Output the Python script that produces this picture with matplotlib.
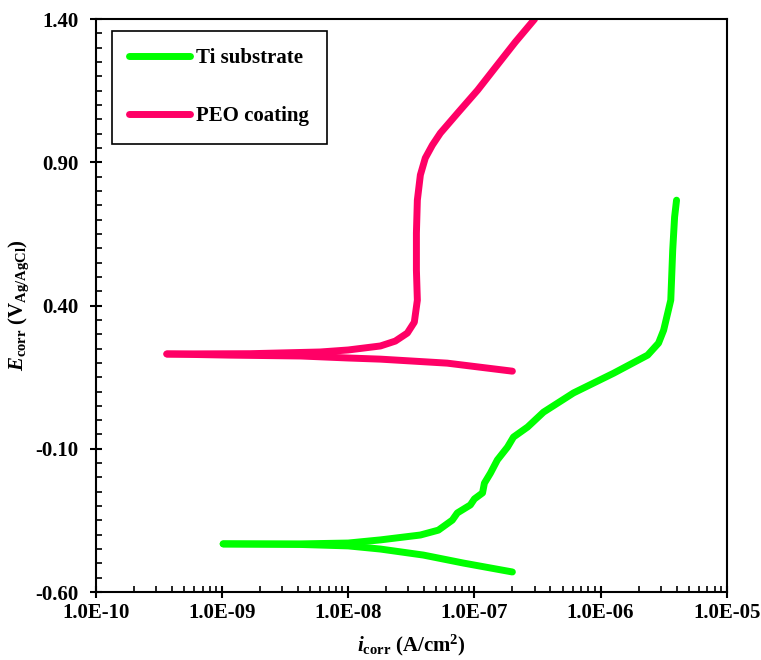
#
# Potentiodynamic polarization curves: Ti substrate vs PEO coating
#
import matplotlib
matplotlib.use('Agg')
import matplotlib.pyplot as plt
from matplotlib.ticker import FuncFormatter, FixedLocator, MultipleLocator, LogLocator, NullFormatter

plt.rcParams['font.family'] = ['Liberation Serif', 'DejaVu Serif']
plt.rcParams['font.weight'] = 'bold'
plt.rcParams['mathtext.fontset'] = 'custom'
plt.rcParams['mathtext.rm'] = 'Liberation Serif:bold'
plt.rcParams['mathtext.bf'] = 'Liberation Serif:bold'
plt.rcParams['mathtext.it'] = 'Liberation Serif:bold:italic'

# Ti substrate: cathodic branch (from high current down to Ecorr)
ti_cat_i = [2.0e-7, 8.2e-8, 3.94e-8, 1.8e-8, 1.0e-8, 4.2e-9, 1.02e-9]
ti_cat_E = [-0.530, -0.499, -0.471, -0.450, -0.439, -0.434, -0.432]
# Ti substrate: anodic branch
ti_an_i = [1.02e-9, 4.2e-9, 1.0e-8, 1.8e-8, 3.73e-8, 5.18e-8, 6.68e-8, 7.32e-8,
           9.29e-8, 1.0e-7, 1.16e-7, 1.2e-7, 1.34e-7, 1.52e-7, 1.83e-7, 2.04e-7,
           2.64e-7, 3.53e-7, 6.1e-7, 1.27e-6, 2.36e-6, 2.88e-6, 3.16e-6, 3.6e-6,
           3.73e-6, 3.86e-6, 4.0e-6]
ti_an_E = [-0.432, -0.432, -0.429, -0.418, -0.401, -0.384, -0.349, -0.324,
           -0.296, -0.275, -0.254, -0.220, -0.185, -0.139, -0.094, -0.059,
           -0.024, 0.028, 0.095, 0.164, 0.227, 0.269, 0.314, 0.419,
           0.594, 0.709, 0.768]

# PEO coating: cathodic branch
peo_cat_i = [2.0e-7, 6.1e-8, 1.8e-8, 1.0e-8, 4.2e-9, 1.16e-9, 3.65e-10]
peo_cat_E = [0.171, 0.199, 0.213, 0.217, 0.224, 0.227, 0.231]
# PEO coating: anodic branch
peo_an_i = [3.65e-10, 1.67e-9, 6.0e-9, 1.0e-8, 1.8e-8, 2.36e-8, 2.94e-8, 3.34e-8,
            3.53e-8, 3.47e-8, 3.47e-8, 3.53e-8, 3.73e-8, 4.08e-8, 4.64e-8, 5.37e-8,
            7.46e-8, 1.06e-7, 1.47e-7, 2.11e-7, 3.0e-7]
peo_an_E = [0.231, 0.232, 0.238, 0.245, 0.259, 0.276, 0.304, 0.342,
            0.419, 0.524, 0.653, 0.768, 0.856, 0.915, 0.960, 1.002,
            1.075, 1.152, 1.232, 1.320, 1.400]

y_ticks = [-0.60, -0.10, 0.40, 0.90, 1.40]
x_ticks = [1e-10, 1e-9, 1e-8, 1e-7, 1e-6, 1e-5]

green = '#00FF00'
pink = '#FF0066'
lw = 5

fig = plt.figure(figsize=(7.61, 6.60), dpi=100)
ax = fig.add_axes([0.126, 0.103, 0.829, 0.868])

style = dict(lw=lw, solid_capstyle='round', solid_joinstyle='round')
ax.plot(ti_an_i, ti_an_E, color=green, label='Ti substrate', **style)
ax.plot(ti_cat_i, ti_cat_E, color=green, **style)
ax.plot(peo_an_i, peo_an_E, color=pink, label='PEO coating', **style)
ax.plot(peo_cat_i, peo_cat_E, color=pink, **style)

ax.set_xscale('log')
ax.set_xlim(1e-10, 1e-5)
ax.set_ylim(-0.6, 1.4)

ax.yaxis.set_major_locator(FixedLocator(y_ticks))
ax.yaxis.set_minor_locator(MultipleLocator(0.05))
ax.yaxis.set_major_formatter(FuncFormatter(lambda v, p: '%.2f' % v))
ax.xaxis.set_major_locator(FixedLocator(x_ticks))
ax.xaxis.set_minor_locator(LogLocator(base=10, subs=range(2, 10), numticks=20))
ax.xaxis.set_minor_formatter(NullFormatter())
ax.xaxis.set_major_formatter(FuncFormatter(lambda v, p: '%.1E' % v))

ax.tick_params(which='major', direction='inout', length=9, width=1.5, labelsize=15)
ax.tick_params(axis='y', which='major', pad=8)
ax.tick_params(which='minor', direction='in', length=4, width=1.2)
for s in ax.spines.values():
    s.set_linewidth(1.5)

ax.set_xlabel(r'$\mathit{i}_{\mathrm{corr}}$ (A/cm$^{2}$)', fontsize=15, fontweight='bold', labelpad=7)
ax.set_ylabel(r'$\mathit{E}_{\mathrm{corr}}$ (V$_{\mathrm{Ag/AgCl}}$)', fontsize=15, fontweight='bold', labelpad=3)

leg = ax.legend(loc='upper left', bbox_to_anchor=(0.025, 0.98), borderaxespad=0, fancybox=False,
                edgecolor='black', framealpha=1, prop={'weight': 'bold', 'size': 15}, handlelength=2.9,
                labelspacing=1.8, borderpad=0.85, handletextpad=0.3)
leg.get_frame().set_linewidth(1.2)

plt.savefig('out.png', dpi=100)
